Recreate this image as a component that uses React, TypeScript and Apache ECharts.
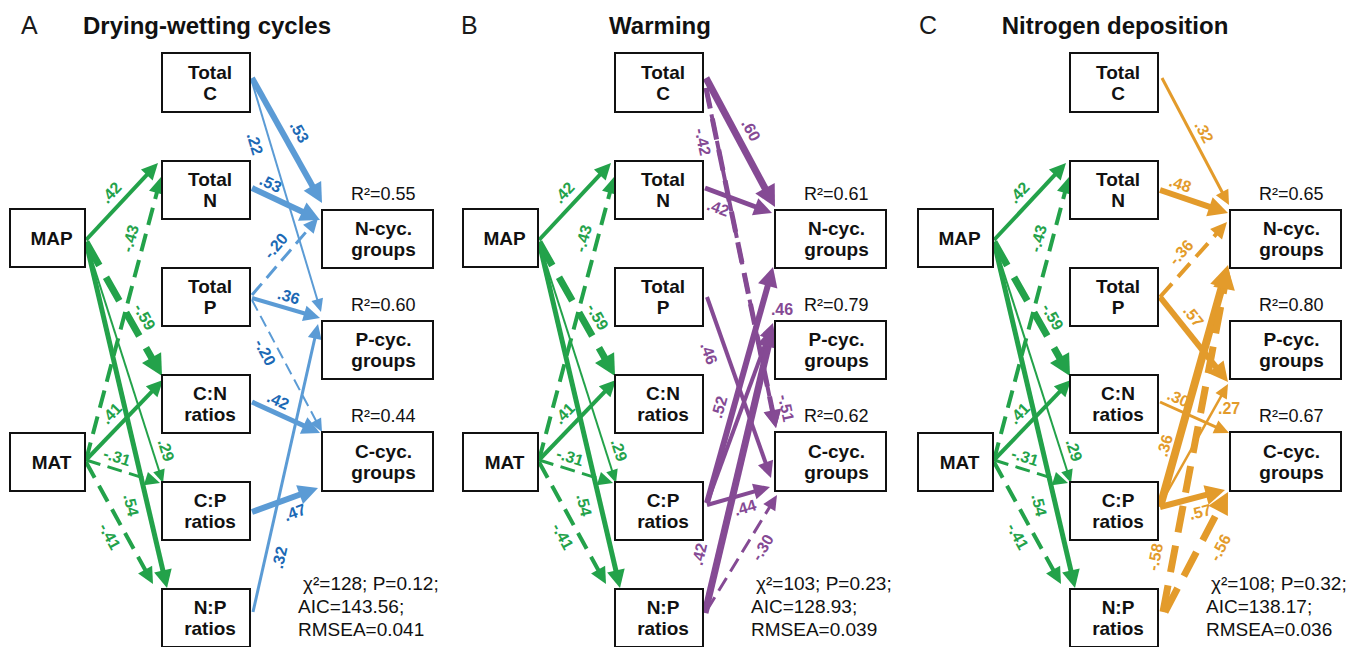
import React, { useEffect, useRef } from 'react';
import * as echarts from 'echarts';

// ---------------- DATA ----------------
const panelLetters = ['A', 'B', 'C'];
const panelTitles = ['Drying-wetting cycles', 'Warming', 'Nitrogen deposition'];

const nodeIds = ['MAP', 'MAT', 'TC', 'TN', 'TP', 'CN', 'CP', 'NP', 'NC', 'PC', 'CC'];
const nodeLabels = ['MAP', 'MAT', 'Total\nC', 'Total\nN', 'Total\nP', 'C:N\nratios', 'C:P\nratios', 'N:P\nratios', 'N-cyc.\ngroups', 'P-cyc.\ngroups', 'C-cyc.\ngroups'];

// climate paths (shared by the three panels)
const climateFrom = ['MAP', 'MAT', 'MAP', 'MAT', 'MAP', 'MAT', 'MAP', 'MAT'];
const climateTo = ['TN', 'TN', 'CN', 'CN', 'CP', 'CP', 'NP', 'NP'];
const climateCoef = [0.42, -0.43, -0.59, 0.41, 0.29, -0.31, 0.54, -0.41];

// A: drying-wetting cycles
const dwFrom = ['TC', 'TC', 'TN', 'TP', 'TP', 'TP', 'CN', 'CP', 'NP'];
const dwTo = ['NC', 'PC', 'NC', 'NC', 'PC', 'CC', 'CC', 'CC', 'PC'];
const dwCoef = [0.53, 0.22, 0.53, -0.2, 0.36, -0.2, 0.42, 0.47, 0.32];

// B: warming
const warmFrom = ['TC', 'TC', 'TC', 'TN', 'TP', 'CP', 'CP', 'NP', 'CP', 'NP'];
const warmTo = ['NC', 'CC', 'CC', 'NC', 'CC', 'NC', 'PC', 'PC', 'CC', 'CC'];
const warmCoef = [0.6, -0.42, -0.51, 0.42, 0.46, 0.52, 0.46, 0.42, 0.44, -0.3];

// C: nitrogen deposition
const ndFrom = ['TC', 'TN', 'TP', 'TP', 'CN', 'CP', 'CP', 'CP', 'NP', 'NP'];
const ndTo = ['NC', 'NC', 'NC', 'PC', 'CC', 'PC', 'NC', 'CC', 'NC', 'CC'];
const ndCoef = [0.32, 0.48, -0.36, 0.57, 0.3, 0.27, 0.36, 0.57, -0.58, -0.56];

const r2Targets = ['NC', 'PC', 'CC'];
const r2Values = [
  [0.55, 0.6, 0.44],
  [0.61, 0.79, 0.62],
  [0.65, 0.8, 0.67],
];
const chiSquare = [128, 103, 108];
const pValues = [0.12, 0.23, 0.32];
const aicValues = [143.56, 128.93, 138.17];
const rmseaValues = [0.041, 0.039, 0.036];

// ---------------- LAYOUT / STYLE ----------------
const W = 1365;
const H = 647;
const FONT = '"Liberation Sans", Arial, Helvetica, sans-serif';
const panelOffsets = [0, 453, 908];
const letterX = [21, 461, 919];

const nodeBox: Record<string, number[]> = {
  MAP: [10, 209, 75, 58],
  MAT: [10, 433, 75, 58],
  TC: [162, 53, 88, 59],
  TN: [162, 161, 88, 58],
  TP: [162, 268, 88, 58],
  CN: [162, 375, 88, 58],
  CP: [162, 482, 88, 58],
  NP: [162, 589, 88, 58],
  NC: [322, 210, 111, 58],
  PC: [322, 321, 111, 58],
  CC: [322, 432, 111, 59],
};

// [width, startDx, startDy, endDx, endDy, labelT, labelOffset, horizontalLabel]
const climateStyle = [
  [4, 1, 2, -4, -27, 0.49, 14],
  [4, 1, -2, -1, -13, 0.77, 14],
  [7, 1, 4, 0, -28, 0.61, 14],
  [4, 1, -2, 1, -24, 0.46, 14],
  [2, 1, 4, 1, -28, 0.88, 13],
  [3, 1, -2, -2, -28, 0.37, 12],
  [5, 1, 4, 5, -30, 0.75, -16],
  [4, 1, 0, -9, -34, 0.55, -15],
];
const dwStyle = [
  [6, 2, -4.5, 0, -36, 0.49, 15],
  [2, 2, -0.5, -1, -38, 0.25, -15],
  [6, 2, -2, -2, -19, 0.2, 12],
  [3, 2, -2, -4, -21, 0.52, 14],
  [4, 2, 1, -2, -32, 0.49, 12],
  [2, 2, 3, 0, -29.5, 0.35, -13],
  [5, 2, -2, -2, -28.5, 0.31, 12],
  [6, 2, 1, -4, 26.5, 0.57, -15],
  [3, 3, -6, -4, -26, 0.2, -14],
];
const warmStyle = [
  [7, 3, -4.5, 0, -32, 0.46, 15],
  [5, 3, 5.5, 1, -33.5, 0.15, -14],
  [4, 3, 5.5, 1, -33.5, 0.95, 14],
  [5, 2, -2, -3, -26, 0.27, -14],
  [4, 4, 0, -4, 16.5, 0.28, -17],
  [6, 4, -8, -2, 28, 0.39, 14],
  [4, 4, -8, -2, -27, 1.08, -4, 1],
  [7, 2, -5, -2, -24, 0.19, 19],
  [4, 4, -6, -5, 25.5, 0.55, -13],
  [3, 4, -8, 2, 33.5, 0.61, -15],
];
const ndStyle = [
  [3, 4, -4.5, -1, -34, 0.47, 12],
  [6, 2, 0, -2, -26, 0.24, 12],
  [4, 2, 0, -3, -17, 0.47, 14],
  [6, 2, 0, -2, 32, 0.33, 14],
  [3, 2, -2, -1, -28.5, 0.2, 11],
  [2.5, 2, -6, -2, 34, 0.85, -13, 1],
  [8, 2, -4, -2, 26, 0.24, 12],
  [6, 2, -4, -5, 28.5, 0.56, -15],
  [7, 5, -6, -2, 29, 0.15, 18],
  [7, 7, -6, -2, 30.5, 0.61, -19],
];

const GREEN = '#23a24a';
const panelPaths = [
  { from: dwFrom, to: dwTo, coef: dwCoef, style: dwStyle, color: '#5b9bd5', labelColor: '#1c69b5' },
  { from: warmFrom, to: warmTo, coef: warmCoef, style: warmStyle, color: '#854a94', labelColor: '#854a94' },
  { from: ndFrom, to: ndTo, coef: ndCoef, style: ndStyle, color: '#e39b2b', labelColor: '#e39b2b' },
];

const fmtCoef = (v: number) => (v < 0 ? '-' : '') + Math.abs(v).toFixed(2).replace(/^0/, '');

type Link = {
  sx: number; sy: number; ex: number; ey: number; w: number; dashed: boolean;
  color: string; labelColor: string; text: string; t: number; d: number; horiz: boolean;
};

function buildLinks(): Link[] {
  const out: Link[] = [];
  for (let p = 0; p < 3; p++) {
    const off = panelOffsets[p];
    const add = (from: string[], to: string[], coef: number[], style: number[][], color: string, labelColor: string) => {
      for (let i = 0; i < from.length; i++) {
        const a = nodeBox[from[i]];
        const b = nodeBox[to[i]];
        const s = style[i];
        out.push({
          sx: off + a[0] + a[2] + s[1],
          sy: a[1] + a[3] / 2 + s[2],
          ex: off + b[0] + s[3],
          ey: b[1] + b[3] / 2 + s[4],
          w: s[0],
          dashed: coef[i] < 0,
          color,
          labelColor,
          text: fmtCoef(coef[i]),
          t: s[5],
          d: s[6],
          horiz: !!s[7],
        });
      }
    };
    add(climateFrom, climateTo, climateCoef, climateStyle, GREEN, GREEN);
    const pp = panelPaths[p];
    add(pp.from, pp.to, pp.coef, pp.style, pp.color, pp.labelColor);
  }
  return out;
}

type NodeItem = { x: number; y: number; w: number; h: number; label: string; big: boolean };
function buildNodes(): NodeItem[] {
  const out: NodeItem[] = [];
  for (let p = 0; p < 3; p++) {
    nodeIds.forEach((id, i) => {
      const b = nodeBox[id];
      out.push({ x: panelOffsets[p] + b[0], y: b[1], w: b[2], h: b[3], label: nodeLabels[i], big: b[2] > 100 });
    });
  }
  return out;
}

export default function App() {
  const ref = useRef<HTMLDivElement>(null);
  useEffect(() => {
    if (!ref.current) return;
    const chart = echarts.init(ref.current, undefined, { renderer: 'svg' });
    const links = buildLinks();
    const nodes = buildNodes();

    const graphics: any[] = [];
    for (let p = 0; p < 3; p++) {
      const off = panelOffsets[p];
      graphics.push({
        type: 'text', x: letterX[p], y: 25,
        style: { text: panelLetters[p], fill: '#1a1a1a', fontSize: 25, fontFamily: FONT, align: 'left', verticalAlign: 'middle' },
      });
      graphics.push({
        type: 'text', x: off + 207, y: 25,
        style: { text: panelTitles[p], fill: '#111', fontSize: 24, fontWeight: 'bold', fontFamily: FONT, align: 'center', verticalAlign: 'middle' },
      });
      r2Targets.forEach((id, k) => {
        const b = nodeBox[id];
        graphics.push({
          type: 'text', x: off + b[0] + 29, y: b[1] - 16,
          style: { text: 'R²=' + r2Values[p][k].toFixed(2), fill: '#111', fontSize: 18, fontFamily: FONT, align: 'left', verticalAlign: 'middle' },
        });
      });
      const stats = [
        { t: 'χ²=' + chiSquare[p] + '; P=' + pValues[p].toFixed(2) + ';', x: 303, y: 583 },
        { t: 'AIC=' + aicValues[p].toFixed(2) + ';', x: 298, y: 606 },
        { t: 'RMSEA=' + rmseaValues[p].toFixed(3), x: 298, y: 629 },
      ];
      stats.forEach((s) => {
        graphics.push({
          type: 'text', x: off + s.x, y: s.y,
          style: { text: s.t, fill: '#111', fontSize: 19, fontFamily: FONT, align: 'left', verticalAlign: 'middle' },
        });
      });
    }

    const option: any = {
      animation: false,
      backgroundColor: '#ffffff',
      grid: { left: 0, right: 0, top: 0, bottom: 0 },
      xAxis: { type: 'value', min: 0, max: W, show: false },
      yAxis: { type: 'value', min: 0, max: H, inverse: true, show: false },
      graphic: { elements: graphics },
      series: [
        {
          type: 'custom',
          name: 'paths',
          clip: false,
          z: 2,
          encode: { x: [0, 2], y: [1, 3] },
          data: links.map((l) => [l.sx, l.sy, l.ex, l.ey]),
          renderItem: (params: any, api: any) => {
            const L = links[params.dataIndex];
            const p1 = api.coord([L.sx, L.sy]);
            const p2 = api.coord([L.ex, L.ey]);
            const dx = p2[0] - p1[0];
            const dy = p2[1] - p1[1];
            const len = Math.hypot(dx, dy);
            const ux = dx / len;
            const uy = dy / len;
            const nx = uy;
            const ny = -ux;
            const ah = 10 + 1.6 * L.w;
            const hw = 4 + L.w;
            const bx = p2[0] - ux * ah;
            const by = p2[1] - uy * ah;
            const lx = p2[0] - ux * ah * 0.75;
            const ly = p2[1] - uy * ah * 0.75;
            const dash = 3 * L.w + 6;
            const lpx = p1[0] + ux * len * L.t + nx * L.d;
            const lpy = p1[1] + uy * len * L.t + ny * L.d;
            const rot = L.horiz ? 0 : -Math.atan2(dy, dx);
            return {
              type: 'group',
              children: [
                {
                  type: 'line',
                  shape: { x1: p1[0], y1: p1[1], x2: lx, y2: ly },
                  style: { stroke: L.color, lineWidth: L.w, lineDash: L.dashed ? [dash, dash * 0.5] : null, fill: null },
                },
                {
                  type: 'polygon',
                  shape: { points: [[p2[0], p2[1]], [bx + nx * hw, by + ny * hw], [bx - nx * hw, by - ny * hw]] },
                  style: { fill: L.color, stroke: null },
                },
                {
                  type: 'text',
                  x: lpx,
                  y: lpy,
                  rotation: rot,
                  style: {
                    text: L.text, fill: L.labelColor, fontSize: 16, fontWeight: 'bold', fontFamily: FONT,
                    align: 'center', verticalAlign: 'middle',
                  },
                },
              ],
            };
          },
        },
        {
          type: 'custom',
          name: 'variables',
          clip: false,
          z: 4,
          encode: { x: 0, y: 1 },
          data: nodes.map((n) => [n.x + n.w / 2, n.y + n.h / 2]),
          renderItem: (params: any, api: any) => {
            const n = nodes[params.dataIndex];
            const c = api.coord([n.x + n.w / 2, n.y + n.h / 2]);
            return {
              type: 'group',
              children: [
                {
                  type: 'rect',
                  shape: { x: c[0] - n.w / 2, y: c[1] - n.h / 2, width: n.w, height: n.h },
                  style: { fill: '#ffffff', stroke: '#111', lineWidth: 2 },
                },
                {
                  type: 'text',
                  x: c[0] + (n.big ? 6 : 4),
                  y: c[1],
                  style: {
                    text: n.label, fill: '#111', fontSize: 19, fontWeight: 'bold', fontFamily: FONT,
                    align: 'center', verticalAlign: 'middle', lineHeight: 21,
                  },
                },
              ],
            };
          },
        },
      ],
    };
    chart.setOption(option);
    return () => chart.dispose();
  }, []);
  return <div ref={ref} style={{ position: 'absolute', left: 0, top: 0, width: W, height: H, background: '#fff' }} />;
}
